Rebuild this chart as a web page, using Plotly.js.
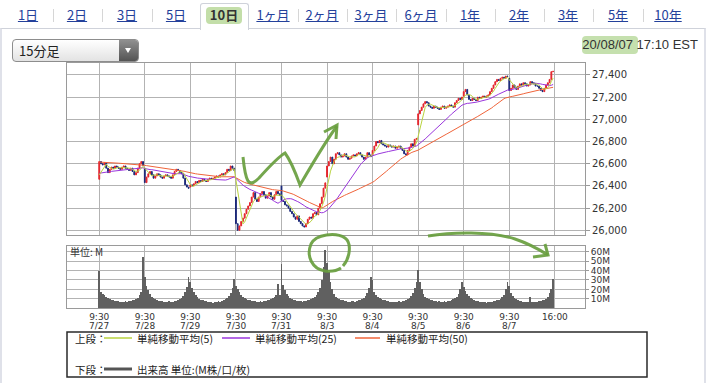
<!DOCTYPE html>
<html><head><meta charset="utf-8">
<script src="https://cdn.plot.ly/plotly-3.0.1.min.js"></script>
<style>
html,body{margin:0;padding:0;background:#fff;width:718px;height:383px;overflow:hidden;}
body{position:relative;font-family:"Noto Sans CJK JP",sans-serif;}
#frame{position:absolute;left:0;top:28px;width:702px;height:360px;border-left:2px solid #dfe1e9;border-right:2px solid #dfe1e9;border-top:1px solid #cfd2da;}
.tab{position:absolute;top:6px;font-size:13px;color:#24419b;text-decoration:underline;transform:translateX(-50%);white-space:nowrap;line-height:18px;}
.sep{position:absolute;top:9px;width:1px;height:13px;background:#d6d6d6;}
#seltab{position:absolute;left:200px;top:3px;width:47px;height:26px;border:1px solid #cfd2da;border-bottom:none;background:#fff;border-radius:3px 3px 0 0;}
#selhl{position:absolute;left:206px;top:7px;width:36px;height:17px;background:#c3dea9;border-radius:4px;filter:blur(0.6px);}
#seltxt{position:absolute;left:224px;top:6px;transform:translateX(-50%);font-size:13px;line-height:18px;color:#333;font-weight:bold;}
#dd{position:absolute;left:12px;top:39px;width:125px;height:21px;border:1px solid #8d8d8d;border-radius:4px;background:linear-gradient(#ffffff,#e3e3e3);overflow:hidden;}
#ddtext{position:absolute;left:6px;top:0;line-height:21px;font-size:13px;color:#222;}
#ddbtn{position:absolute;right:0;top:0;width:19px;height:21px;background:linear-gradient(#909090,#545454);}
#ddarrow{position:absolute;left:6px;top:8px;width:0;height:0;border-left:3.5px solid transparent;border-right:3.5px solid transparent;border-top:5px solid #fff;}
#tshl{position:absolute;left:582px;top:36px;width:56px;height:18px;background:#c5e0ae;border-radius:4px;filter:blur(0.6px);}
#ts{position:absolute;right:20px;top:37px;font-family:"Liberation Sans",Arial,sans-serif;font-size:13px;line-height:16px;color:#333;white-space:nowrap;}
#chart{position:absolute;left:0;top:0;width:718px;height:383px;}
</style>
</head>
<body>
<div id="frame"></div>
<div id="tabs"></div>
<div id="seltab"></div><div id="selhl"></div><div id="seltxt">10日</div>
<div id="dd"><div id="ddtext">15分足</div><div id="ddbtn"><div id="ddarrow"></div></div></div>
<div id="tshl"></div><div id="ts">20/08/07 17:10 EST</div>
<div id="chart"></div>
<script>
// ---------------- data ----------------
const tickTimes = ['9:30','9:30','9:30','9:30','9:30','9:30','9:30','9:30','9:30','9:30','16:00'];
const tickDates = ['7/27','7/28','7/29','7/30','7/31','8/3','8/4','8/5','8/6','8/7',''];
const dayOpen = [26460, 26560, 26390, 26300, 26400, 26480, 26680, 26950, 27210, 27370];

const close0727 = [26620,26600,26590,26610,26560,26520,26550,26570,26560,26580,26570,26560,26550,26570,26580,26560,26550,26540,26560,26530,26500,26520,26560,26600,26620,26585];
const close0728 = [26430,26480,26510,26530,26500,26470,26490,26510,26500,26480,26470,26490,26500,26490,26480,26470,26500,26530,26550,26540,26520,26510,26470,26410,26390,26379];
const close0729 = [26410,26400,26420,26440,26430,26450,26440,26460,26450,26440,26460,26470,26460,26470,26480,26490,26480,26500,26510,26500,26520,26550,26540,26580,26560,26540];
const close0730 = [26060,26000,26040,26080,26110,26150,26190,26220,26250,26300,26340,26280,26260,26300,26330,26350,26320,26290,26310,26340,26300,26280,26320,26350,26330,26314];
const close0731 = [26270,26260,26230,26220,26200,26170,26150,26120,26100,26130,26080,26060,26040,26030,26060,26100,26120,26110,26150,26160,26140,26200,26240,26300,26380,26428];
const close0803 = [26580,26620,26660,26600,26640,26690,26700,26680,26660,26670,26690,26660,26640,26650,26670,26680,26670,26690,26700,26680,26660,26640,26660,26700,26680,26664];
const close0804 = [26720,26760,26800,26790,26810,26780,26770,26760,26750,26770,26760,26750,26760,26740,26750,26760,26740,26720,26690,26680,26720,26750,26780,26760,26820,26828];
const close0805 = [27050,27080,27110,27140,27160,27150,27120,27110,27100,27120,27110,27100,27090,27110,27120,27100,27110,27120,27130,27120,27110,27150,27170,27190,27180,27201];
const close0806 = [27250,27270,27220,27180,27170,27190,27180,27170,27200,27190,27200,27210,27200,27210,27220,27250,27280,27310,27340,27360,27350,27370,27380,27370,27390,27387];
const close0807 = [27260,27280,27310,27290,27270,27300,27320,27310,27330,27320,27300,27310,27340,27330,27320,27300,27300,27280,27260,27250,27280,27310,27330,27360,27430,27433];

const vol0727 = [39,17,15,14,12,11,10,9,9,8,8,8,7,7,7,8,7,8,8,9,9,10,11,14,17,54];
const vol0728 = [33,24,19,15,12,11,10,9,8,8,8,7,7,7,8,7,7,8,8,9,10,11,13,17,23,33];
const vol0729 = [28,22,17,14,12,10,9,9,8,8,7,7,7,6,7,7,8,7,8,9,10,11,13,16,22,31];
const vol0730 = [24,20,17,14,12,11,10,9,9,8,8,8,7,7,8,7,8,8,9,9,10,11,12,14,26,14];
const vol0731 = [47,25,19,15,13,11,10,9,9,8,8,8,7,8,8,9,9,10,11,12,14,17,22,30,44,62];
const vol0803 = [48,38,28,20,15,12,11,10,9,9,8,8,7,7,8,8,7,8,9,9,10,11,13,16,22,33];
const vol0804 = [30,17,14,12,11,10,9,9,8,8,7,7,7,7,7,8,7,8,8,9,10,11,13,16,22,28];
const vol0805 = [41,28,20,15,12,11,10,9,9,8,8,7,8,7,7,8,7,8,8,9,10,11,12,15,20,28];
const vol0806 = [23,18,15,13,11,10,9,8,8,7,7,7,7,6,7,7,7,8,8,9,9,10,12,14,20,28];
const vol0807 = [24,16,13,11,10,9,8,8,7,7,7,7,12,7,7,7,7,8,8,9,9,10,12,16,20,31];

const priceTicks = [26000,26200,26400,26600,26800,27000,27200,27400];
const volTicks = [10,20,30,40,50,60];
// MA levels before the first bar
const ma5Seed = 26470, ma25Seed = 26510, ma50Seed = 26615;

const closeByDay = [close0727,close0728,close0729,close0730,close0731,close0803,close0804,close0805,close0806,close0807];
const volByDay = [vol0727,vol0728,vol0729,vol0730,vol0731,vol0803,vol0804,vol0805,vol0806,vol0807];

// ---------------- build series ----------------
const BARS = 26;
const X=[],O=[],H=[],L=[],C=[],V=[];
closeByDay.forEach((day,d)=>{
  day.forEach((c,i)=>{
    const o = i===0 ? dayOpen[d] : day[i-1];
    X.push(d*BARS+i); O.push(o); C.push(c);
    H.push(Math.max(o,c)); L.push(Math.min(o,c));
    V.push(volByDay[d][i]);
  });
});
function sma(arr,n,seed){
  return arr.map((_,i)=>{let s=0;for(let j=i-n+1;j<=i;j++){s+= j>=0?arr[j]:seed;}return s/n;});
}
const ma5=sma(C,5,ma5Seed), ma25=sma(C,25,ma25Seed), ma50=sma(C,50,ma50Seed);
const tickVals = tickTimes.map((_,k)=>k*BARS);

const COL_UP='#e4252c', COL_DN='#1b2878', COL5='#b9d33f', COL25='#9a36dc', COL50='#f0643a';

// ---------------- page chrome (tabs) ----------------
const tabLabels=['1日','2日','3日','5日','10日','1ヶ月','2ヶ月','3ヶ月','6ヶ月','1年','2年','3年','5年','10年'];
const tabCenters=[28,77,127,176,224,273,322,371,421,470,519,568,618,668];
const tabsDiv=document.getElementById('tabs');
tabLabels.forEach((t,i)=>{
  if(i!==4){const e=document.createElement('div');e.className='tab';e.style.left=tabCenters[i]+'px';e.textContent=t;tabsDiv.appendChild(e);}
  if(i<tabLabels.length-1 && i!==3 && i!==4){const s=document.createElement('div');s.className='sep';s.style.left=((tabCenters[i]+tabCenters[i+1])/2)+'px';tabsDiv.appendChild(s);}
});

// ---------------- chart ----------------
const W=718,Hh=383;
const px=v=>v/W, py=v=>1-v/Hh;
const toPaper=s=>s.replace(/(-?[\d.]+),(-?[\d.]+)/g,(m,a,b)=>px(+a)+','+py(+b));

const traces=[
 {type:'candlestick',x:X,open:O,high:H,low:L,close:C,xaxis:'x',yaxis:'y',
  increasing:{line:{color:COL_UP,width:1},fillcolor:COL_UP},
  decreasing:{line:{color:COL_DN,width:1},fillcolor:COL_DN},whiskerwidth:0,hoverinfo:'skip'},
 {type:'scatter',mode:'lines',x:X,y:ma50,xaxis:'x',yaxis:'y',line:{color:COL50,width:1}},
 {type:'scatter',mode:'lines',x:X,y:ma25,xaxis:'x',yaxis:'y',line:{color:COL25,width:1}},
 {type:'scatter',mode:'lines',x:X,y:ma5,xaxis:'x',yaxis:'y',line:{color:COL5,width:1}},
 {type:'bar',x:X,y:V,xaxis:'x2',yaxis:'y2',marker:{color:'#606060',line:{width:0}},width:1}
];

const GRID='#b3b3b3', AXL='#9a9a9a';
const xr=[-18.4,277.2];
const green='rgba(104,158,62,0.92)';
const shapes=[
 {type:'rect',xref:'paper',yref:'paper',x0:px(67),x1:px(647),y0:py(332),y1:py(377),line:{color:'#2a2a2a',width:1.5}},
 {type:'line',xref:'paper',yref:'paper',x0:px(104),x1:px(132),y0:py(338),y1:py(338),line:{color:COL5,width:1.5}},
 {type:'line',xref:'paper',yref:'paper',x0:px(222),x1:px(250),y0:py(338),y1:py(338),line:{color:COL25,width:1.5}},
 {type:'line',xref:'paper',yref:'paper',x0:px(355),x1:px(380),y0:py(338),y1:py(338),line:{color:COL50,width:1.5}},
 {type:'line',xref:'paper',yref:'paper',x0:px(104),x1:px(132),y0:py(369),y1:py(369),line:{color:'#555',width:3}},
 // hand-drawn green marks
 {type:'path',xref:'paper',yref:'paper',line:{color:green,width:3},
  path:toPaper('M 243,157 C 244,167 245,176 248,181 C 251,185 255,182 259,178 C 268,168 278,157 285,153 C 291,161 296,174 300,185 C 310,168 325,142 337,126')},
 {type:'path',xref:'paper',yref:'paper',line:{color:green,width:3},path:toPaper('M 324,132 L 337,125 L 336,139')},
 {type:'path',xref:'paper',yref:'paper',line:{color:green,width:3},
  path:toPaper('M 343,266 C 350,258 352,243 345,238 C 336,232 316,234 311,244 C 306,256 312,269 325,271 C 333,272 338,270 341,268')},
 {type:'path',xref:'paper',yref:'paper',line:{color:green,width:3},
  path:toPaper('M 428,236 C 452,232 490,231 515,239 C 530,244 540,250 548,255')},
 {type:'path',xref:'paper',yref:'paper',line:{color:green,width:3},path:toPaper('M 533,257 L 548,255 L 545,244')}
];
const lf={family:'Noto Sans CJK JP',size:10.5,color:'#222'};
const ann=(t,x,y,f)=>({text:t,xref:'paper',yref:'paper',x:px(x),y:py(y),xanchor:'left',yanchor:'middle',showarrow:false,font:f||lf});
const annotations=[
 ann('単位: M',68,252,{family:'Noto Sans CJK JP',size:10,color:'#333'}),
 ann('上段：',73,338), ann('単純移動平均(5)',135,338), ann('単純移動平均(25)',253,338), ann('単純移動平均(50)',384,338),
 ann('下段：',73,369), ann('出来高 単位:(M株/口/枚)',135,369)
];
// date line under each time tick
tickDates.forEach((d,k)=>{ if(d) annotations.push({text:d,xref:'x2',yref:'paper',x:tickVals[k],y:py(325.5),xanchor:'center',yanchor:'middle',showarrow:false,
  font:{family:'DejaVu Sans',size:9,color:'#333'}}); });

const layout={
 width:W,height:Hh,margin:{l:0,r:0,t:0,b:0},paper_bgcolor:'rgba(0,0,0,0)',plot_bgcolor:'#fff',
 showlegend:false,hovermode:false,bargap:0,
 xaxis:{domain:[px(67),px(585)],range:xr,anchor:'y',tickvals:tickVals,showticklabels:false,ticks:'',
   showgrid:true,gridcolor:GRID,gridwidth:1,zeroline:false,showline:true,mirror:true,linecolor:AXL,rangeslider:{visible:false}},
 yaxis:{domain:[py(235),py(63)],range:[25958,27508],anchor:'x',side:'right',tickvals:priceTicks,tickformat:',d',
   ticks:'outside',ticklen:4,tickcolor:AXL,tickfont:{family:'DejaVu Sans',size:10,color:'#333'},
   showgrid:true,gridcolor:GRID,gridwidth:1,zeroline:false,showline:true,mirror:true,linecolor:AXL},
 xaxis2:{domain:[px(67),px(585)],range:xr,anchor:'y2',tickvals:tickVals,ticktext:tickTimes,ticks:'',
   tickfont:{family:'DejaVu Sans',size:9,color:'#333'},
   showgrid:true,gridcolor:GRID,gridwidth:1,zeroline:false,showline:true,mirror:true,linecolor:AXL},
 yaxis2:{domain:[py(308.3),py(246)],range:[0,65.9],anchor:'x2',side:'right',tickvals:volTicks,ticktext:volTicks.map(v=>v+'M'),
   ticks:'outside',ticklen:3,tickcolor:AXL,tickfont:{family:'DejaVu Sans',size:9,color:'#333'},
   showgrid:true,gridcolor:GRID,gridwidth:1,zeroline:false,showline:true,mirror:true,linecolor:AXL},
 shapes:shapes,annotations:annotations
};
Plotly.newPlot('chart',traces,layout,{staticPlot:true,displayModeBar:false});
</script>
</body></html>
